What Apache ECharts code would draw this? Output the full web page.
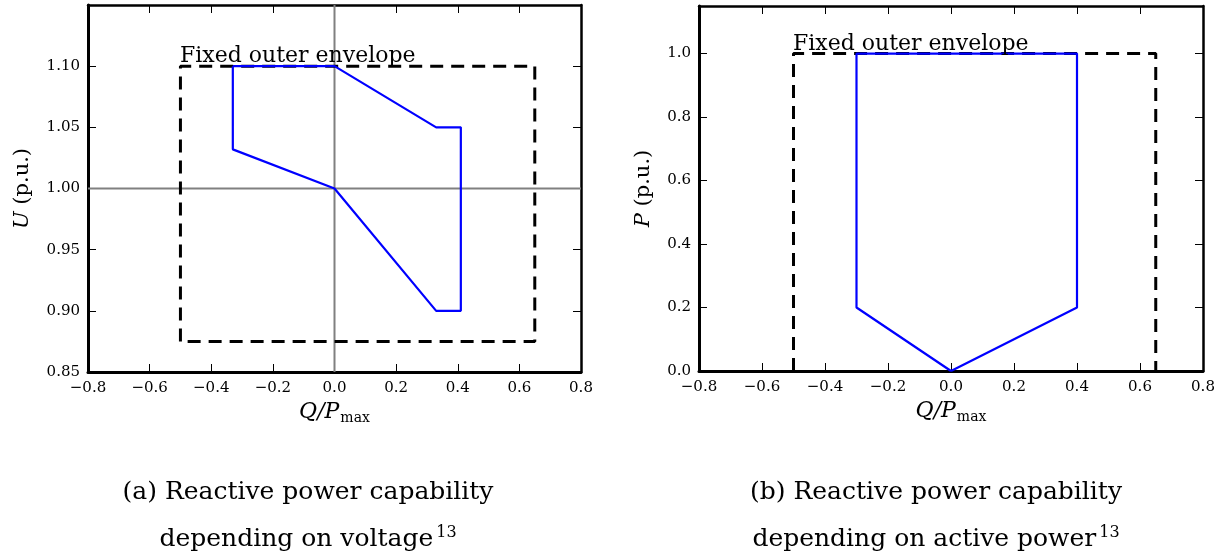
<!DOCTYPE html>
<html>
<head>
<meta charset="utf-8">
<script src="https://cdn.jsdelivr.net/npm/echarts@6/dist/echarts.min.js"></script>
<style>
html, body { margin: 0; padding: 0; background: #fff; }
#chart { width: 1222px; height: 559px; }
</style>
</head>
<body>
<div id="chart"></div>
<script>
// ---- data ----
const xTicks = [-0.8, -0.6, -0.4, -0.2, 0.0, 0.2, 0.4, 0.6, 0.8];
const uTicks = [0.85, 0.90, 0.95, 1.00, 1.05, 1.10];
const pTicks = [0.0, 0.2, 0.4, 0.6, 0.8, 1.0];

// (a) voltage dependent
const envelopeU = [[-0.5, 0.875], [-0.5, 1.10], [0.65, 1.10], [0.65, 0.875], [-0.5, 0.875]];
const capabilityU = [[-0.33, 1.10], [0, 1.10], [0.33, 1.05], [0.41, 1.05], [0.41, 0.90],
    [0.33, 0.90], [0, 1.00], [-0.33, 1.032], [-0.33, 1.10]];
const zeroLineH = [[-0.8, 1.0], [0.8, 1.0]];
const zeroLineV = [[0, 0.85], [0, 1.15]];

// (b) active power dependent
const envelopeP = [[-0.5, 0], [-0.5, 1.0], [0.65, 1.0], [0.65, 0]];
const capabilityP = [[0, 0], [0.4, 0.2], [0.4, 1.0], [-0.3, 1.0], [-0.3, 0.2], [0, 0]];

const labelText = 'Fixed outer envelope';
const labelPosU = [[-0.5, 1.10]];
const labelPosP = [[-0.5, 1.0]];

const serif = 'DejaVu Serif';
const minus = v => String(v).replace('-', '\u2212');

function fmt(ticks, digits) {
    return function (v) {
        const hit = ticks.some(t => Math.abs(t - v) < 1e-6);
        return hit ? minus(v.toFixed(digits)) : '';
    };
}

function mainX(grid) {
    return {
        type: 'value', gridIndex: grid, min: -0.8, max: 0.8, interval: 0.2,
        axisLine: { show: true, onZero: false, lineStyle: { color: '#000', width: 3 } },
        axisTick: { show: true, inside: true, length: 8, lineStyle: { color: '#000', width: 1 } },
        axisLabel: { color: '#000', fontFamily: serif, fontSize: 15, margin: 9, formatter: fmt(xTicks, 1) },
        splitLine: { show: false },
        name: '{i|Q/P}{s|max}', nameLocation: 'middle', nameGap: 26,
        nameTextStyle: {
            rich: {
                i: { fontFamily: serif, fontStyle: 'italic', fontSize: 22, color: '#000' },
                s: { fontFamily: serif, fontSize: 14, color: '#000', padding: [12, 0, 0, 1] }
            }
        }
    };
}
function topX(grid) {
    return {
        type: 'value', gridIndex: grid, position: 'top', min: -0.8, max: 0.8, interval: 0.2,
        axisLine: { show: true, onZero: false, lineStyle: { color: '#000', width: 2.5 } },
        axisTick: { show: true, inside: true, length: 8, lineStyle: { color: '#000', width: 1 } },
        axisLabel: { show: false }, splitLine: { show: false }
    };
}
function mainY(grid, min, max, interval, ticks, digits, name, gap) {
    return {
        type: 'value', gridIndex: grid, min: min, max: max, interval: interval,
        axisLine: { show: true, onZero: false, lineStyle: { color: '#000', width: 3 } },
        axisTick: { show: true, inside: true, length: 8, lineStyle: { color: '#000', width: 1 } },
        axisLabel: { color: '#000', fontFamily: serif, fontSize: 15, margin: 8, formatter: fmt(ticks, digits) },
        splitLine: { show: false },
        name: name, nameLocation: 'middle', nameGap: gap, nameRotate: 90,
        nameTextStyle: {
            rich: {
                i: { fontFamily: serif, fontStyle: 'italic', fontSize: 21, color: '#000' },
                r: { fontFamily: serif, fontSize: 21, color: '#000' }
            }
        }
    };
}
function rightY(grid, min, max, interval) {
    return {
        type: 'value', gridIndex: grid, position: 'right', min: min, max: max, interval: interval,
        axisLine: { show: true, onZero: false, lineStyle: { color: '#000', width: 2.5 } },
        axisTick: { show: true, inside: true, length: 8, lineStyle: { color: '#000', width: 1 } },
        axisLabel: { show: false }, splitLine: { show: false }
    };
}

function lineSeries(xi, yi, data, color, width, type, z) {
    return {
        type: 'line', xAxisIndex: xi, yAxisIndex: yi, data: data, symbol: 'none',
        lineStyle: { color: color, width: width, type: type }, z: z, silent: true
    };
}
function textSeries(xi, yi, data) {
    return {
        type: 'scatter', xAxisIndex: xi, yAxisIndex: yi, data: data, symbolSize: 1,
        itemStyle: { color: 'rgba(0,0,0,0)', opacity: 1 }, z: 6, silent: true,
        label: {
            show: true, formatter: labelText, position: [0, 2], align: 'left', verticalAlign: 'bottom',
            fontFamily: serif, fontSize: 22, color: '#000', opacity: 1, textBorderWidth: 0
        }
    };
}

const captionRich = {
    t: { fontFamily: serif, fontSize: 25, fontWeight: 'normal', color: '#000', lineHeight: 47 },
    sup: { fontFamily: serif, fontSize: 16, fontWeight: 'normal', color: '#000', padding: [0, 0, 14, 3], lineHeight: 47 }
};

const option = {
    animation: false,
    backgroundColor: '#fff',
    title: [
        {
            text: '{t|(a) Reactive power capability}\n{t|depending on voltage}{sup|13}',
            left: 303, top: 464, textAlign: 'center',
            textStyle: { fontWeight: 'normal', rich: captionRich }
        },
        {
            text: '{t|(b) Reactive power capability}\n{t|depending on active power}{sup|13}',
            left: 931, top: 464, textAlign: 'center',
            textStyle: { fontWeight: 'normal', rich: captionRich }
        }
    ],
    grid: [
        { left: 88, top: 5, width: 493, height: 367 },
        { left: 699, top: 6, width: 504, height: 365 }
    ],
    xAxis: [mainX(0), topX(0), mainX(1), topX(1)],
    yAxis: [
        mainY(0, 0.85, 1.15, 0.05, uTicks, 2, '{i|U}{r| (p.u.)}', 55),
        rightY(0, 0.85, 1.15, 0.05),
        mainY(1, 0, 1.15, 0.2, pTicks, 1, '{i|P}{r| (p.u.)}', 45),
        rightY(1, 0, 1.15, 0.2)
    ],
    series: [
        lineSeries(0, 0, zeroLineH, '#808080', 2, 'solid', 1),
        lineSeries(0, 0, zeroLineV, '#808080', 2, 'solid', 1),
        lineSeries(0, 0, envelopeU, '#000', 3, [13, 8], 3),
        lineSeries(0, 0, capabilityU, '#0000ff', 2.2, 'solid', 4),
        textSeries(0, 0, labelPosU),
        lineSeries(2, 2, envelopeP, '#000', 3, [13, 8], 3),
        lineSeries(2, 2, capabilityP, '#0000ff', 2.2, 'solid', 4),
        textSeries(2, 2, labelPosP)
    ]
};

const chart = echarts.init(document.getElementById('chart'));
chart.setOption(option);
</script>
</body>
</html>
